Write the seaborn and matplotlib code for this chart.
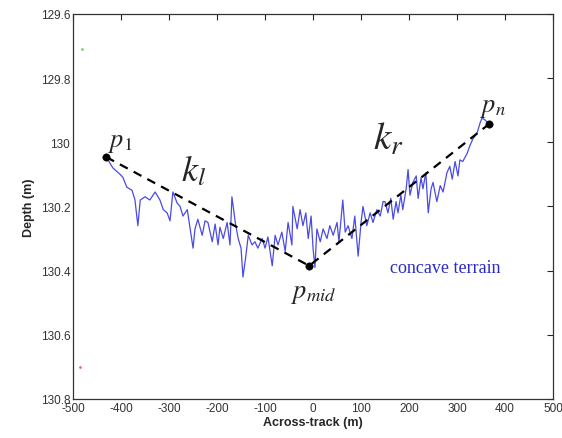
import matplotlib
matplotlib.use("Agg")
import matplotlib.pyplot as plt
import seaborn as sns
import pandas as pd

# ---- data ----
profile_x = [-431, -417, -402, -396, -388, -377, -371, -365, -360, -350, -340, -329, -319, -312,
             -304, -298, -292, -283, -277, -271, -262, -256, -250, -246, -240, -231, -225, -219,
             -210, -204, -198, -194, -187, -179, -173, -169, -162, -156, -150, -146, -140, -135,
             -127, -121, -115, -106, -100, -94, -85, -79, -73, -65, -58, -52, -44, -42, -33,
             -27, -21, -15, -10, -4, 0, 4, 8, 15, 21, 29, 35, 42, 50, 54, 62, 67, 73, 81, 87,
             94, 100, 104, 112, 119, 125, 133, 140, 146, 150, 156, 162, 167, 173, 177, 183, 187,
             194, 198, 202, 208, 215, 219, 225, 229, 235, 240, 246, 250, 258, 265, 271, 279, 285,
             290, 296, 302, 306, 312, 321, 327, 333, 342, 348, 352, 358, 365]
profile_depth = [130.046, 130.08, 130.10, 130.11, 130.14, 130.15, 130.18, 130.26, 130.18, 130.17,
                 130.18, 130.155, 130.18, 130.21, 130.22, 130.245, 130.155, 130.19, 130.20, 130.23,
                 130.21, 130.27, 130.33, 130.27, 130.24, 130.29, 130.245, 130.25, 130.31, 130.255,
                 130.32, 130.265, 130.30, 130.25, 130.32, 130.17, 130.25, 130.30, 130.33, 130.42,
                 130.355, 130.29, 130.32, 130.31, 130.33, 130.30, 130.33, 130.295, 130.385, 130.29,
                 130.32, 130.28, 130.34, 130.25, 130.32, 130.20, 130.27, 130.21, 130.26, 130.22,
                 130.30, 130.23, 130.33, 130.39, 130.27, 130.31, 130.27, 130.30, 130.26, 130.29,
                 130.25, 130.31, 130.18, 130.28, 130.26, 130.30, 130.23, 130.355, 130.25, 130.20,
                 130.26, 130.22, 130.25, 130.21, 130.23, 130.185, 130.185, 130.22, 130.175, 130.24,
                 130.185, 130.22, 130.165, 130.21, 130.145, 130.085, 130.165, 130.125, 130.105,
                 130.175, 130.11, 130.145, 130.095, 130.22, 130.145, 130.125, 130.185, 130.135,
                 130.155, 130.095, 130.075, 130.115, 130.06, 130.105, 130.055, 130.06, 130.035,
                 130.01, 129.99, 129.97, 129.94, 129.925, 129.93, 129.94]

key_names = ["p1", "pmid", "pn"]
key_x = [-431, -8, 367]
key_depth = [130.046, 130.385, 129.943]

stray_x = [-482, -485]
stray_depth = [129.71, 130.70]
stray_colors = ["#7fd07f", "#e07070"]

x_ticks = [-500, -400, -300, -200, -100, 0, 100, 200, 300, 400, 500]
y_ticks = [129.6, 129.8, 130, 130.2, 130.4, 130.6, 130.8]
y_tick_labels = ["129.6", "129.8", "130", "130.2", "130.4", "130.6", "130.8"]

# ---- plotting ----
sns.set_style("white")
plt.rcParams["font.family"] = ["Liberation Sans", "DejaVu Sans"]
plt.rcParams["mathtext.fontset"] = "stix"
plt.rcParams["axes.unicode_minus"] = False

fig = plt.figure(figsize=(5.62, 4.39), dpi=100)
ax = fig.add_axes([0.130, 0.089, 0.854, 0.877])

prof = pd.DataFrame({"x": profile_x, "depth": profile_depth})
keys = pd.DataFrame({"x": key_x, "depth": key_depth, "name": key_names})

sns.lineplot(data=prof, x="x", y="depth", sort=False, ax=ax, color="#4a4ae6",
             linewidth=0.9, estimator=None)
sns.lineplot(data=keys, x="x", y="depth", sort=False, ax=ax, color="black",
             linewidth=1.6, linestyle=(0, (4, 3)), estimator=None)
sns.scatterplot(data=keys, x="x", y="depth", ax=ax, color="black", s=28,
                edgecolor="black", zorder=5)
for sx, sy, sc in zip(stray_x, stray_depth, stray_colors):
    ax.plot(sx, sy, marker=".", markersize=2, color=sc, linestyle="none")

ax.set_xlim(-500, 500)
ax.set_ylim(130.8, 129.6)
ax.set_xticks(x_ticks)
ax.set_yticks(y_ticks)
ax.set_yticklabels(y_tick_labels)
ax.tick_params(axis="both", direction="in", length=4, width=0.8, labelsize=8.5,
               labelcolor="#333333", top=True, right=True, pad=2)
for s in ax.spines.values():
    s.set_color("#333333")
    s.set_linewidth(0.9)

ax.set_xlabel("Across-track (m)", fontsize=9, fontweight="bold", labelpad=2)
ax.set_ylabel("Depth (m)", fontsize=9, fontweight="bold", labelpad=4)

ax.text(-402, 130.0, r"$p_{\mathrm{1}}$", fontsize=19, ha="center", va="center")
ax.text(-248, 130.09, r"$k_l$", fontsize=26, ha="center", va="center")
ax.text(156, 129.99, r"$k_r$", fontsize=28, ha="center", va="center")
ax.text(375, 129.89, r"$p_n$", fontsize=19, ha="center", va="center")
ax.text(2, 130.47, r"$p_{mid}$", fontsize=19, ha="center", va="center")
ax.text(275, 130.39, "concave terrain", fontsize=13, color="#2a2ac8",
        family=["Liberation Serif", "DejaVu Serif"], ha="center", va="center")

fig.savefig("out.png", dpi=100)
